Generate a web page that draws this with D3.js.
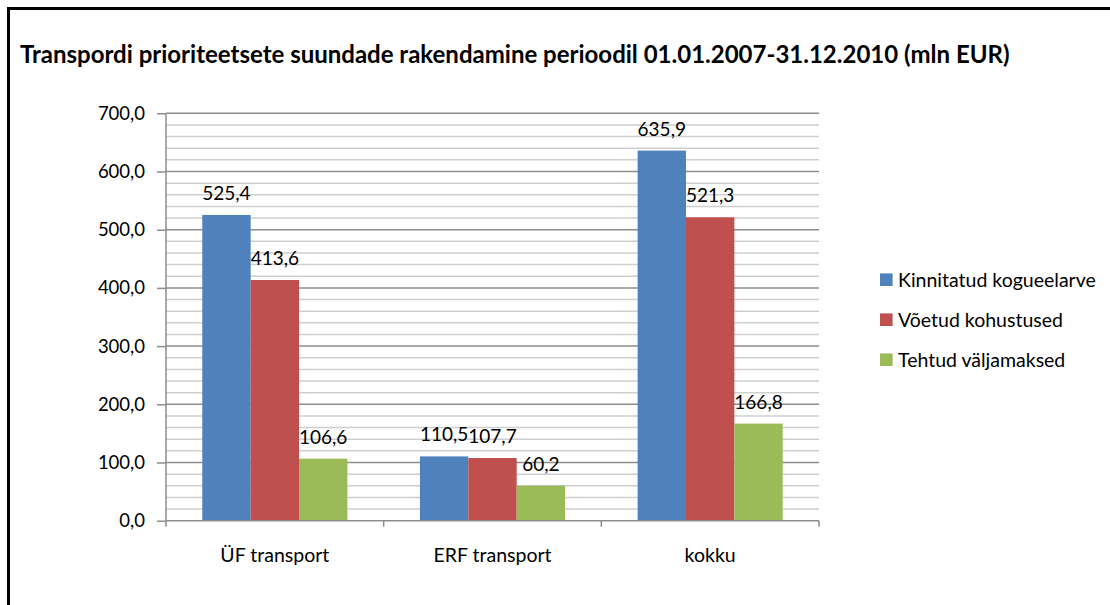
<!DOCTYPE html>
<html>
<head>
<meta charset="utf-8">
<script src="https://cdn.jsdelivr.net/npm/d3@7"></script>
<style>
  body { margin: 0; background: #fff; }
  text { font-family: Lato, "Open Sans", sans-serif; fill: #000; }
</style>
</head>
<body>
<div id="my_dataviz"></div>
<script>
// chart values
const categories = ["ÜF transport", "ERF transport", "kokku"];
const seriesNames = ["Kinnitatud kogueelarve", "Võetud kohustused", "Tehtud väljamaksed"];
const budget = [525.4, 110.5, 635.9];
const commitments = [413.6, 107.7, 521.3];
const payments = [106.6, 60.2, 166.8];
const yTicks = [0, 100, 200, 300, 400, 500, 600, 700];
const colors = ["#4F81BD", "#C0504D", "#9BBB59"];

const title = "Transpordi prioriteetsete suundade rakendamine perioodil 01.01.2007-31.12.2010 (mln EUR)";

// set the dimensions and margins of the plot area
var margin = {top: 113.3, right: 291, bottom: 84.3, left: 166},
  width = 1110 - margin.left - margin.right,
  height = 605 - margin.top - margin.bottom;

var svg = d3.select("#my_dataviz")
.append("svg")
  .attr("width", 1110)
  .attr("height", 605);

// frame (only top and left edges show)
svg.append("path")
  .attr("d", "M8.5,605 V8.5 H1110")
  .attr("fill", "none")
  .attr("stroke", "#000")
  .attr("stroke-width", 3);

svg.append("text")
  .attr("x", 20)
  .attr("y", 63)
  .style("font-size", "24px")
  .style("font-weight", "bold")
  .text(title);

var g = svg.append("g")
  .attr("transform", "translate(" + margin.left + "," + margin.top + ")");

var locale = d3.formatLocale({decimal: ",", thousands: " ", grouping: [3], currency: ["", ""]});
var fmt = locale.format(".1f");

var y = d3.scaleLinear().domain([0, 700]).range([height, 0]);
var x0 = d3.scaleBand().domain(categories).range([0, width]);
var x1 = d3.scaleBand().domain(seriesNames).range([0, x0.bandwidth()]).paddingOuter(0.75);

// minor gridlines every 20
g.append("g")
  .selectAll("line")
  .data(d3.range(20, 701, 20).filter(v => v % 100 !== 0))
  .enter()
  .append("line")
    .attr("x1", 0)
    .attr("x2", width)
    .attr("y1", d => y(d))
    .attr("y2", d => y(d))
    .style("stroke", "#cfcfcf")
    .style("stroke-width", 1.5);

// major gridlines
g.append("g")
  .selectAll("line")
  .data(yTicks.filter(v => v > 0))
  .enter()
  .append("line")
    .attr("x1", 0)
    .attr("x2", width)
    .attr("y1", d => y(d))
    .attr("y2", d => y(d))
    .style("stroke", "#8e8e8e")
    .style("stroke-width", 1.5);

// y axis
var yAxis = g.append("g")
  .call(d3.axisLeft(y).tickValues(yTicks).tickSize(9).tickPadding(12).tickFormat(fmt));
yAxis.select(".domain").remove();
yAxis.selectAll(".tick line").style("stroke", "#8e8e8e").style("stroke-width", 1.5);
yAxis.selectAll(".tick text").style("font-size", "18.5px").style("font-family", "Lato, sans-serif").attr("fill", "#000");

g.append("line")
  .attr("x1", 0).attr("x2", 0)
  .attr("y1", 0).attr("y2", height + 6)
  .style("stroke", "#8e8e8e").style("stroke-width", 1.5);

// bars
var rows = categories.map((c, i) => ({cat: c, vals: [budget[i], commitments[i], payments[i]]}));

var group = g.selectAll("g.cat")
  .data(rows)
  .enter()
  .append("g")
    .attr("class", "cat")
    .attr("transform", d => "translate(" + x0(d.cat) + ",0)");

group.selectAll("rect")
  .data(d => d.vals.map((v, j) => ({name: seriesNames[j], value: v, j: j})))
  .enter()
  .append("rect")
    .attr("x", d => x1(d.name))
    .attr("width", x1.bandwidth())
    .attr("y", d => y(d.value))
    .attr("height", d => height - y(d.value))
    .attr("fill", d => colors[d.j]);

group.selectAll("text.val")
  .data(d => d.vals.map((v, j) => ({name: seriesNames[j], value: v, j: j})))
  .enter()
  .append("text")
    .attr("class", "val")
    .attr("x", d => x1(d.name) + x1.bandwidth() / 2)
    .attr("y", d => y(d.value) - 15)
    .attr("text-anchor", "middle")
    .style("font-size", "19px")
    .text(d => fmt(d.value));

// x axis line and boundary ticks
g.append("line")
  .attr("x1", 0).attr("x2", width)
  .attr("y1", height).attr("y2", height)
  .style("stroke", "#8e8e8e").style("stroke-width", 1.5);

g.append("g")
  .selectAll("line")
  .data(categories)
  .enter()
  .append("line")
    .attr("x1", d => x0(d) + x0.bandwidth())
    .attr("x2", d => x0(d) + x0.bandwidth())
    .attr("y1", height)
    .attr("y2", height + 6)
    .style("stroke", "#8e8e8e").style("stroke-width", 1.5);

g.append("g")
  .selectAll("text")
  .data(categories)
  .enter()
  .append("text")
    .attr("x", d => x0(d) + x0.bandwidth() / 2)
    .attr("y", height + 41.5)
    .attr("text-anchor", "middle")
    .style("font-size", "19.5px")
    .text(d => d);

// legend
var legend = svg.append("g")
  .selectAll("g")
  .data(seriesNames)
  .enter()
  .append("g")
    .attr("transform", (d, i) => "translate(880," + (279.7 + i * 40) + ")");

legend.append("rect")
  .attr("x", 0)
  .attr("y", -6.3)
  .attr("width", 12.6)
  .attr("height", 12.6)
  .attr("fill", (d, i) => colors[i]);

legend.append("text")
  .attr("x", 18)
  .attr("y", 0)
  .attr("dy", "0.35em")
  .style("font-size", "19.5px")
  .text(d => d);
</script>
</body>
</html>
